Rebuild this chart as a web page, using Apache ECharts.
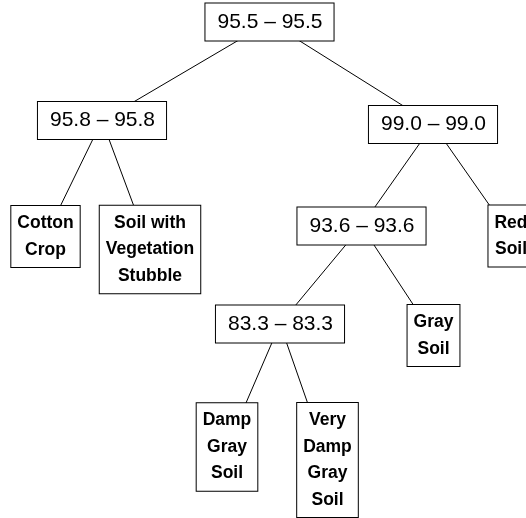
<html>

<head>
    <script src="https://cdn.jsdelivr.net/npm/echarts@6/dist/echarts.min.js"></script>
</head>
<style>
    body {
        margin: 0;
        background: #fff;
    }

    #tree {
        width: 526px;
        height: 518px;
    }
</style>

<body>
    <div id="tree"></div>
    <script>
        // tree nodes, in axis units (x across, y down)
        const nodeLabels = ['95.5 – 95.5', '95.8 – 95.8', '99.0 – 99.0', 'Cotton\nCrop', 'Soil with\nVegetation\nStubble',
            '93.6 – 93.6', 'Red\nSoil', '83.3 – 83.3', 'Gray\nSoil', 'Damp\nGray\nSoil', 'Very\nDamp\nGray\nSoil']
        const nodeX = [269.5, 102, 433, 45.5, 150, 361.5, 511, 280, 433.5, 227, 327.5]
        const nodeY = [22, 120.5, 124.5, 236.5, 249.5, 226, 236, 324, 335.5, 447, 460]
        const parentOf = [-1, 0, 0, 1, 1, 2, 2, 5, 5, 7, 7]
        const isLeaf = [false, false, false, true, true, false, true, false, true, true, true]

        const innerLabel = {
            fontFamily: 'Liberation Sans',
            fontSize: 21,
            lineHeight: 22,
            padding: [8, 11, 7, 12]
        }
        // no narrow bold font here, so a smaller bold one keeps the box widths
        const leafLabel = {
            fontFamily: 'Liberation Sans',
            fontWeight: 'bold',
            fontSize: 17.5,
            lineHeight: 26.5,
            padding: [4, 6, 4, 6]
        }

        let points = nodeLabels.map(function (t, i) {
            return {
                value: [nodeX[i], nodeY[i]],
                label: isLeaf[i] ? leafLabel : innerLabel
            }
        })

        let edges = []
        parentOf.forEach(function (p, i) {
            if (p < 0) return
            edges.push({ coords: [[nodeX[p], nodeY[p]], [nodeX[i], nodeY[i]]] })
        })

        const option = {
            animation: false,
            grid: { left: 0, right: 0, top: 0, bottom: 0 },
            xAxis: { type: 'value', min: 0, max: 526, show: false },
            yAxis: { type: 'value', min: 0, max: 518, inverse: true, show: false },
            series: [{
                type: 'lines',
                coordinateSystem: 'cartesian2d',
                z: 1,
                lineStyle: { color: '#000', width: 1, opacity: 1 },
                data: edges
            }, {
                type: 'scatter',
                z: 2,
                symbolSize: 0,
                itemStyle: { opacity: 1 },
                label: {
                    show: true,
                    position: 'inside',
                    color: '#000',
                    opacity: 1,
                    align: 'center',
                    backgroundColor: '#fff',
                    borderColor: '#000',
                    borderWidth: 1,
                    formatter: function (p) { return nodeLabels[p.dataIndex] }
                },
                data: points
            }]
        }
        const myChart = echarts.init(document.getElementById('tree'))
        myChart.setOption(option)
    </script>
</body>

</html>
